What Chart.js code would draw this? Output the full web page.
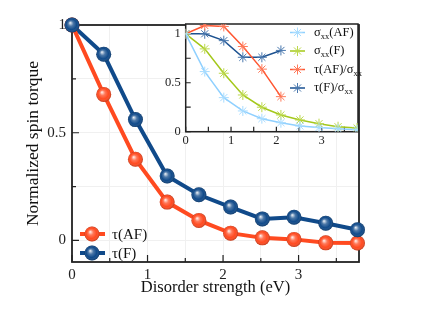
<!DOCTYPE html>
<html>
<head>
<meta charset="utf-8">
<script src="https://cdn.jsdelivr.net/npm/chart.js@4/dist/chart.umd.min.js"></script>
<style>
  body { margin: 0; background: #fff; }
  #wrap { position: relative; width: 436px; height: 319px; }
  #inset { position: absolute; left: 150px; top: 10px; }
</style>
</head>
<body>
<div id="wrap">
  <canvas id="main" width="436" height="319"></canvas>
  <canvas id="inset" width="220" height="140"></canvas>
</div>
<script>
// disorder strength (eV) used for every series
const disorder = [0, 0.42, 0.84, 1.26, 1.68, 2.1, 2.52, 2.94, 3.36, 3.78]

// main panel
const tauAF = [1, 0.678, 0.377, 0.178, 0.093, 0.034, 0.012, 0.005, -0.011, -0.012]
const tauF = [1, 0.864, 0.561, 0.299, 0.212, 0.155, 0.100, 0.108, 0.080, 0.050]

// inset
const sigmaAF = [1, 0.614, 0.348, 0.212, 0.133, 0.092, 0.058, 0.042, 0.030, 0.020]
const sigmaF = [1, 0.846, 0.597, 0.375, 0.250, 0.171, 0.120, 0.082, 0.051, 0.038]
const tauAFperSigma = [1, 1.085, 1.075, 0.870, 0.639, 0.358]
const tauFperSigma = [1, 1.000, 0.930, 0.760, 0.760, 0.830]

const mainXTicks = [0, 0.5, 1, 1.5, 2, 2.5, 3, 3.5]
const mainYTicks = [0, 0.25, 0.5, 0.75, 1]
const insetXTicks = [0, 0.5, 1, 1.5, 2, 2.5, 3, 3.5]
const insetYTicks = [0, 0.25, 0.5, 0.75, 1]

const SERIF = '"Liberation Serif", "Times New Roman", serif'
const ORANGE = '#ff4a20'
const NAVY = '#104a8a'

const pts = (ys) => ys.map((y, i) => ({x: disorder[i], y: y}))
const xLabel = (v) => Number.isInteger(v) ? String(v) : ''
const yLabel = (v) => Number.isInteger(v) ? String(v) : (v === 0.5 ? '0.5' : '')

// black frame + inward ticks
const framePlugin = {
  id: 'frame',
  beforeDatasetsDraw(chart, args, opts) {
    const {ctx, chartArea: a, scales} = chart
    ctx.save()
    ctx.strokeStyle = '#222'
    ctx.lineWidth = opts.lw
    ctx.strokeRect(a.left, a.top, a.right - a.left, a.bottom - a.top)
    ctx.lineWidth = 1.2
    ctx.beginPath()
    scales.x.ticks.forEach(t => {
      const px = scales.x.getPixelForValue(t.value)
      const len = Number.isInteger(t.value) ? opts.major : opts.minor
      ctx.moveTo(px, a.bottom)
      ctx.lineTo(px, a.bottom - len)
    })
    scales.y.ticks.forEach(t => {
      const py = scales.y.getPixelForValue(t.value)
      const len = (t.value * 2) % 1 === 0 ? opts.major : opts.minor
      ctx.moveTo(a.left, py)
      ctx.lineTo(a.left + len, py)
    })
    ctx.stroke()
    ctx.restore()
  }
}

// white backing for the inset plot area only
const insetBg = {
  id: 'insetBg',
  beforeDraw(chart) {
    const {ctx, chartArea: a} = chart
    ctx.save()
    ctx.fillStyle = '#fff'
    ctx.fillRect(a.left, a.top, a.right - a.left, a.bottom - a.top)
    ctx.restore()
  }
}

function shadeBall(ctx, x, y, r, color) {
  ctx.save()
  ctx.beginPath()
  ctx.arc(x, y, r, 0, Math.PI * 2)
  ctx.fillStyle = color
  ctx.fill()
  let g = ctx.createRadialGradient(x - r * 0.25, y - r * 0.3, 0, x, y, r)
  g.addColorStop(0, 'rgba(255,255,255,0.95)')
  g.addColorStop(0.35, 'rgba(255,255,255,0.25)')
  g.addColorStop(0.7, 'rgba(255,255,255,0)')
  g.addColorStop(1, 'rgba(0,0,0,0.25)')
  ctx.fillStyle = g
  ctx.fill()
  ctx.restore()
}

const ballPlugin = {
  id: 'balls',
  afterDatasetsDraw(chart) {
    const ctx = chart.ctx
    chart.data.datasets.forEach((ds, i) => {
      chart.getDatasetMeta(i).data.forEach(p => shadeBall(ctx, p.x, p.y, 7.5, ds.borderColor))
    })
    // legend, bottom left inside the frame
    const rows = [['τ(AF)', ORANGE, 234], ['τ(F)', NAVY, 253]]
    rows.forEach(([txt, col, y]) => {
      ctx.save()
      ctx.strokeStyle = col
      ctx.lineWidth = 4
      ctx.beginPath()
      ctx.moveTo(80, y)
      ctx.lineTo(105, y)
      ctx.stroke()
      ctx.restore()
      shadeBall(ctx, 92, y, 7.5, col)
      ctx.save()
      ctx.fillStyle = '#111'
      ctx.font = '15px ' + SERIF
      ctx.textBaseline = 'middle'
      ctx.fillText(txt, 112, y + 1)
      ctx.restore()
    })
  }
}

function star(ctx, x, y, r) {
  ctx.beginPath()
  for (let k = 0; k < 4; k++) {
    const a = k * Math.PI / 4
    ctx.moveTo(x - r * Math.cos(a), y - r * Math.sin(a))
    ctx.lineTo(x + r * Math.cos(a), y + r * Math.sin(a))
  }
  ctx.stroke()
}

const insetLegend = {
  id: 'insetLegend',
  afterDatasetsDraw(chart) {
    const ctx = chart.ctx
    const ox = 150, oy = 10
    const rows = [
      ['σ', 'xx', '(AF)', 32.5],
      ['σ', 'xx', '(F)', 51],
      ['τ(AF)/σ', 'xx', '', 69.5],
      ['τ(F)/σ', 'xx', '', 88]
    ]
    rows.forEach((r, i) => {
      const ds = chart.data.datasets[i]
      const y = r[3] - oy
      ctx.save()
      ctx.strokeStyle = ds.borderColor
      ctx.lineWidth = 1.5
      ctx.beginPath()
      ctx.moveTo(290 - ox, y)
      ctx.lineTo(305 - ox, y)
      ctx.stroke()
      ctx.strokeStyle = ds.pointBorderColor
      ctx.lineWidth = 1
      star(ctx, 297.5 - ox, y, 5)
      ctx.fillStyle = '#111'
      ctx.textBaseline = 'middle'
      let x = 314 - ox
      ctx.font = '12.5px ' + SERIF
      ctx.fillText(r[0], x, y)
      x += ctx.measureText(r[0]).width
      ctx.font = '8.5px ' + SERIF
      ctx.fillText(r[1], x, y + 4)
      x += ctx.measureText(r[1]).width
      ctx.font = '12.5px ' + SERIF
      ctx.fillText(r[2], x, y)
      ctx.restore()
    })
  }
}

const mainChart = new Chart(document.getElementById('main'), {
  type: 'line',
  data: {
    datasets: [
      {label: 'τ(AF)', data: pts(tauAF), borderColor: ORANGE, backgroundColor: ORANGE, borderWidth: 4, pointRadius: 0},
      {label: 'τ(F)', data: pts(tauF), borderColor: NAVY, backgroundColor: NAVY, borderWidth: 4, pointRadius: 0}
    ]
  },
  options: {
    responsive: false,
    devicePixelRatio: 1,
    animation: false,
    layout: {padding: {left: 0, top: 25, right: 77, bottom: 0}},
    plugins: {
      legend: {display: false},
      tooltip: {enabled: false},
      frame: {lw: 1.8, major: 7, minor: 4}
    },
    scales: {
      x: {
        type: 'linear', min: 0, max: 3.8,
        afterBuildTicks: s => { s.ticks = mainXTicks.map(v => ({value: v})) },
        afterFit: s => { s.height = 57 },
        grid: {color: '#f0f0f0', drawTicks: false},
        border: {display: false},
        ticks: {padding: 4, color: '#222', font: {family: SERIF, size: 15}, callback: xLabel, maxRotation: 0, autoSkip: false},
        title: {display: true, text: 'Disorder strength (eV)', color: '#111', font: {family: SERIF, size: 16.5}, padding: {top: 0, bottom: 21}}
      },
      y: {
        min: -0.1, max: 1,
        afterBuildTicks: s => { s.ticks = mainYTicks.map(v => ({value: v})) },
        afterFit: s => { s.width = 72 },
        grid: {color: '#f0f0f0', drawTicks: false},
        border: {display: false},
        ticks: {padding: 6, color: '#222', font: {family: SERIF, size: 15}, callback: yLabel, autoSkip: false},
        title: {display: true, text: 'Normalized spin torque', color: '#111', font: {family: SERIF, size: 17.5}, padding: {top: 22.5, bottom: 0}}
      }
    }
  },
  plugins: [framePlugin, ballPlugin]
})

const insetChart = new Chart(document.getElementById('inset'), {
  type: 'line',
  data: {
    datasets: [
      {label: 'σxx(AF)', data: pts(sigmaAF), borderColor: '#8fd0ff', pointBorderColor: '#a8dcff'},
      {label: 'σxx(F)', data: pts(sigmaF), borderColor: '#a4c81c', pointBorderColor: '#bcd84a'},
      {label: 'τ(AF)/σxx', data: pts(tauAFperSigma), borderColor: '#ff5530', pointBorderColor: '#ff7a5a'},
      {label: 'τ(F)/σxx', data: pts(tauFperSigma), borderColor: '#1d5290', pointBorderColor: '#4a78ae'}
    ].map(d => Object.assign(d, {borderWidth: 1.5, pointStyle: 'star', pointRadius: 5, pointBorderWidth: 1, backgroundColor: d.borderColor}))
  },
  options: {
    responsive: false,
    devicePixelRatio: 1,
    animation: false,
    layout: {padding: {left: 0, top: 14, right: 12, bottom: 0}},
    plugins: {
      legend: {display: false},
      tooltip: {enabled: false},
      frame: {lw: 1.5, major: 5, minor: 5}
    },
    scales: {
      x: {
        type: 'linear', min: 0, max: 3.8,
        afterBuildTicks: s => { s.ticks = insetXTicks.map(v => ({value: v})) },
        afterFit: s => { s.height = 18.3 },
        grid: {display: false, drawTicks: false},
        border: {display: false},
        ticks: {padding: 2, color: '#222', font: {family: SERIF, size: 12.5}, callback: xLabel, maxRotation: 0, autoSkip: false}
      },
      y: {
        min: 0, max: 1.1,
        afterBuildTicks: s => { s.ticks = insetYTicks.map(v => ({value: v})) },
        afterFit: s => { s.width = 35.7 },
        grid: {display: false, drawTicks: false},
        border: {display: false},
        ticks: {padding: 5, color: '#222', font: {family: SERIF, size: 12.5}, callback: yLabel, autoSkip: false}
      }
    }
  },
  plugins: [insetBg, framePlugin, insetLegend]
})
</script>
</body>
</html>
